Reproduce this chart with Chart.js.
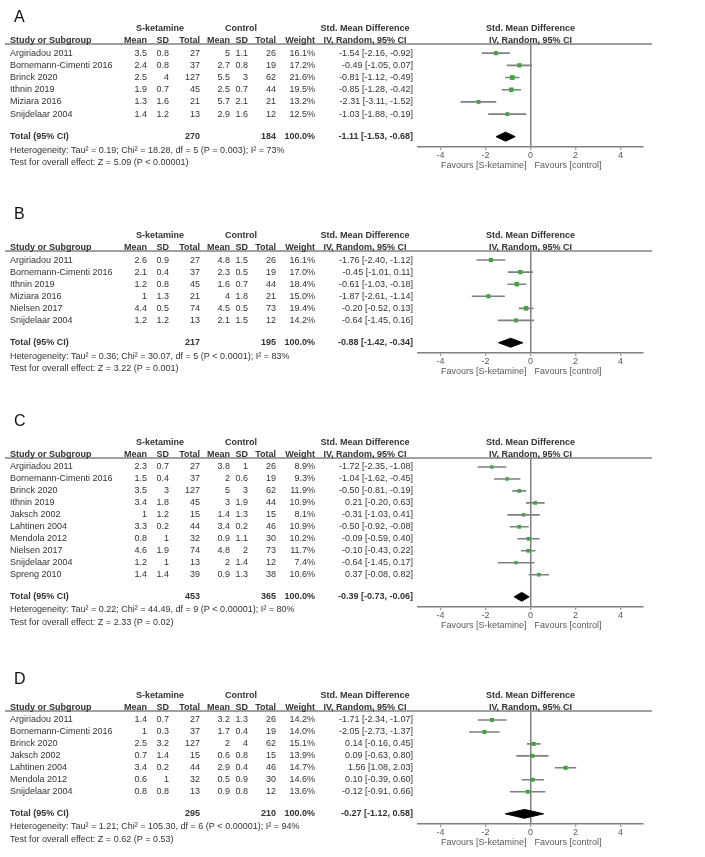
<!DOCTYPE html>
<html lang="en">
<head>
<meta charset="UTF-8">
<title>S-ketamine forest plots</title>
<script src="https://cdn.jsdelivr.net/npm/chart.js@4"></script>
<style>
  body { margin: 0; background: #fff; width: 705px; height: 857px; overflow: hidden; position: relative; }
  canvas { position: absolute; left: 0; }
</style>
</head>
<body>
<script>
// tick labels shared by all four plots
const xTicks = [-4, -2, 0, 2, 4];

// Panel A
const studiesA = ['Argiriadou 2011', 'Bornemann-Cimenti 2016', 'Brinck 2020', 'Ithnin 2019', 'Miziara 2016', 'Snijdelaar 2004'];
const skMeanA = [3.5, 2.4, 2.5, 1.9, 1.3, 1.4];
const skSdA = [0.8, 0.8, 4, 0.7, 1.6, 1.2];
const skNA = [27, 37, 127, 45, 21, 13];
const ctMeanA = [5, 2.7, 5.5, 2.5, 5.7, 2.9];
const ctSdA = [1.1, 0.8, 3, 0.7, 2.1, 1.6];
const ctNA = [26, 19, 62, 44, 21, 12];
const weightA = [16.1, 17.2, 21.6, 19.5, 13.2, 12.5];
const smdA = [-1.54, -0.49, -0.81, -0.85, -2.31, -1.03];
const lowA = [-2.16, -1.05, -1.12, -1.28, -3.11, -1.88];
const highA = [-0.92, 0.07, -0.49, -0.42, -1.52, -0.19];
const totalsA = [270, 184];
const pooledA = [-1.11, -1.53, -0.68];
const hetA = 'Heterogeneity: Tau² = 0.19; Chi² = 18.28, df = 5 (P = 0.003); I² = 73%';
const testA = 'Test for overall effect: Z = 5.09 (P < 0.00001)';

// Panel B
const studiesB = ['Argiriadou 2011', 'Bornemann-Cimenti 2016', 'Ithnin 2019', 'Miziara 2016', 'Nielsen 2017', 'Snijdelaar 2004'];
const skMeanB = [2.6, 2.1, 1.2, 1, 4.4, 1.2];
const skSdB = [0.9, 0.4, 0.8, 1.3, 0.5, 1.2];
const skNB = [27, 37, 45, 21, 74, 13];
const ctMeanB = [4.8, 2.3, 1.6, 4, 4.5, 2.1];
const ctSdB = [1.5, 0.5, 0.7, 1.8, 0.5, 1.5];
const ctNB = [26, 19, 44, 21, 73, 12];
const weightB = [16.1, 17.0, 18.4, 15.0, 19.4, 14.2];
const smdB = [-1.76, -0.45, -0.61, -1.87, -0.20, -0.64];
const lowB = [-2.40, -1.01, -1.03, -2.61, -0.52, -1.45];
const highB = [-1.12, 0.11, -0.18, -1.14, 0.13, 0.16];
const totalsB = [217, 195];
const pooledB = [-0.88, -1.42, -0.34];
const hetB = 'Heterogeneity: Tau² = 0.36; Chi² = 30.07, df = 5 (P < 0.0001); I² = 83%';
const testB = 'Test for overall effect: Z = 3.22 (P = 0.001)';

// Panel C
const studiesC = ['Argiriadou 2011', 'Bornemann-Cimenti 2016', 'Brinck 2020', 'Ithnin 2019', 'Jaksch 2002', 'Lahtinen 2004', 'Mendola 2012', 'Nielsen 2017', 'Snijdelaar 2004', 'Spreng 2010'];
const skMeanC = [2.3, 1.5, 3.5, 3.4, 1, 3.3, 0.8, 4.6, 1.2, 1.4];
const skSdC = [0.7, 0.4, 3, 1.8, 1.2, 0.2, 1, 1.9, 1, 1.4];
const skNC = [27, 37, 127, 45, 15, 44, 32, 74, 13, 39];
const ctMeanC = [3.8, 2, 5, 3, 1.4, 3.4, 0.9, 4.8, 2, 0.9];
const ctSdC = [1, 0.6, 3, 1.9, 1.3, 0.2, 1.1, 2, 1.4, 1.3];
const ctNC = [26, 19, 62, 44, 15, 46, 30, 73, 12, 38];
const weightC = [8.9, 9.3, 11.9, 10.9, 8.1, 10.9, 10.2, 11.7, 7.4, 10.6];
const smdC = [-1.72, -1.04, -0.50, 0.21, -0.31, -0.50, -0.09, -0.10, -0.64, 0.37];
const lowC = [-2.35, -1.62, -0.81, -0.20, -1.03, -0.92, -0.59, -0.43, -1.45, -0.08];
const highC = [-1.08, -0.45, -0.19, 0.63, 0.41, -0.08, 0.40, 0.22, 0.17, 0.82];
const totalsC = [453, 365];
const pooledC = [-0.39, -0.73, -0.06];
const hetC = 'Heterogeneity: Tau² = 0.22; Chi² = 44.49, df = 9 (P < 0.00001); I² = 80%';
const testC = 'Test for overall effect: Z = 2.33 (P = 0.02)';

// Panel D
const studiesD = ['Argiriadou 2011', 'Bornemann-Cimenti 2016', 'Brinck 2020', 'Jaksch 2002', 'Lahtinen 2004', 'Mendola 2012', 'Snijdelaar 2004'];
const skMeanD = [1.4, 1, 2.5, 0.7, 3.4, 0.6, 0.8];
const skSdD = [0.7, 0.3, 3.2, 1.4, 0.2, 1, 0.8];
const skND = [27, 37, 127, 15, 44, 32, 13];
const ctMeanD = [3.2, 1.7, 2, 0.6, 2.9, 0.5, 0.9];
const ctSdD = [1.3, 0.4, 4, 0.8, 0.4, 0.9, 0.8];
const ctND = [26, 19, 62, 15, 46, 30, 12];
const weightD = [14.2, 14.0, 15.1, 13.9, 14.7, 14.6, 13.6];
const smdD = [-1.71, -2.05, 0.14, 0.09, 1.56, 0.10, -0.12];
const lowD = [-2.34, -2.73, -0.16, -0.63, 1.08, -0.39, -0.91];
const highD = [-1.07, -1.37, 0.45, 0.80, 2.03, 0.60, 0.66];
const totalsD = [295, 210];
const pooledD = [-0.27, -1.12, 0.58];
const hetD = 'Heterogeneity: Tau² = 1.21; Chi² = 105.30, df = 6 (P < 0.00001); I² = 94%';
const testD = 'Test for overall effect: Z = 0.62 (P = 0.53)';

// look
const FONT = 'Arial, "Liberation Sans", sans-serif';
const TEXT = '#333333';
const SOFT = '#5a5a5a';
const GREY = '#808080';
const GREEN = '#12b812';
// right edges (or centres) of the table columns
const COL = { name: 10, skMean: 147, skSd: 169, skN: 200, ctMean: 230, ctSd: 248, ctN: 276, weight: 315, ci: 413, skHead: 160, ctHead: 241, ciHead: 365 };

const panels = [
  { letter: 'A', top: 0, axis: 147, letterOff: 26, studies: studiesA, skMean: skMeanA, skSd: skSdA, skN: skNA, ctMean: ctMeanA, ctSd: ctSdA, ctN: ctNA, weight: weightA, smd: smdA, low: lowA, high: highA, totals: totalsA, pooled: pooledA, het: hetA, test: testA },
  { letter: 'B', top: 207, axis: 146, letterOff: 36, studies: studiesB, skMean: skMeanB, skSd: skSdB, skN: skNB, ctMean: ctMeanB, ctSd: ctSdB, ctN: ctNB, weight: weightB, smd: smdB, low: lowB, high: highB, totals: totalsB, pooled: pooledB, het: hetB, test: testB },
  { letter: 'C', top: 414, axis: 193, letterOff: 36, studies: studiesC, skMean: skMeanC, skSd: skSdC, skN: skNC, ctMean: ctMeanC, ctSd: ctSdC, ctN: ctNC, weight: weightC, smd: smdC, low: lowC, high: highC, totals: totalsC, pooled: pooledC, het: hetC, test: testC },
  { letter: 'D', top: 667, axis: 157, letterOff: 31, studies: studiesD, skMean: skMeanD, skSd: skSdD, skN: skND, ctMean: ctMeanD, ctSd: ctSdD, ctN: ctND, weight: weightD, smd: smdD, low: lowD, high: highD, totals: totalsD, pooled: pooledD, het: hetD, test: testD }
];

const HEAD_LINE = 44;   // header rule, from the canvas top
const BELOW_AXIS = 40;  // room under the axis for labels and footnotes

function ciText(m, lo, hi) {
  return m.toFixed(2) + ' [' + lo.toFixed(2) + ', ' + hi.toFixed(2) + ']';
}

// writes the table part of a panel next to the plot, rows follow the y scale
function tablePlugin(p) {
  return {
    id: 'table' + p.letter,
    afterDraw(chart) {
      const { ctx, chartArea, scales: { x, y } } = chart;
      const n = p.studies.length;
      const zero = x.getPixelForValue(0);
      const put = (txt, px, py, align, weight, size, color) => {
        ctx.font = (weight || '') + ' ' + (size || 9) + 'px ' + FONT;
        ctx.fillStyle = color || TEXT;
        ctx.textAlign = align;
        ctx.textBaseline = 'middle';
        ctx.fillText(txt, px, py);
      };
      ctx.save();

      // header rule
      ctx.strokeStyle = GREY;
      ctx.lineWidth = 1.5;
      ctx.beginPath();
      ctx.moveTo(5, chartArea.top);
      ctx.lineTo(chartArea.right + 9, chartArea.top);
      ctx.stroke();

      put(p.letter, 14, chartArea.top - p.letterOff, 'left', '', 16, '#111');

      const h1 = y.getPixelForValue(-2.05);
      const h2 = chartArea.top - 3.5;
      put('S-ketamine', COL.skHead, h1, 'center', 'bold');
      put('Control', COL.ctHead, h1, 'center', 'bold');
      put('Std. Mean Difference', COL.ciHead, h1, 'center', 'bold');
      put('Std. Mean Difference', zero, h1, 'center', 'bold');
      put('Study or Subgroup', COL.name, h2, 'left', 'bold');
      put('Mean', COL.skMean, h2, 'right', 'bold');
      put('SD', COL.skSd, h2, 'right', 'bold');
      put('Total', COL.skN, h2, 'right', 'bold');
      put('Mean', COL.ctMean, h2, 'right', 'bold');
      put('SD', COL.ctSd, h2, 'right', 'bold');
      put('Total', COL.ctN, h2, 'right', 'bold');
      put('Weight', COL.weight, h2, 'right', 'bold');
      put('IV, Random, 95% CI', COL.ciHead, h2, 'center', 'bold');
      put('IV, Random, 95% CI', zero, h2, 'center', 'bold');

      p.studies.forEach((s, i) => {
        const py = y.getPixelForValue(i);
        put(s, COL.name, py, 'left');
        put(String(p.skMean[i]), COL.skMean, py, 'right');
        put(String(p.skSd[i]), COL.skSd, py, 'right');
        put(String(p.skN[i]), COL.skN, py, 'right');
        put(String(p.ctMean[i]), COL.ctMean, py, 'right');
        put(String(p.ctSd[i]), COL.ctSd, py, 'right');
        put(String(p.ctN[i]), COL.ctN, py, 'right');
        put(p.weight[i].toFixed(1) + '%', COL.weight, py, 'right');
        put(ciText(p.smd[i], p.low[i], p.high[i]), COL.ci, py, 'right');
      });

      const ty = y.getPixelForValue(n + 0.85);
      put('Total (95% CI)', COL.name, ty, 'left', 'bold');
      put(String(p.totals[0]), COL.skN, ty, 'right', 'bold');
      put(String(p.totals[1]), COL.ctN, ty, 'right', 'bold');
      put('100.0%', COL.weight, ty, 'right', 'bold');
      put(ciText(p.pooled[0], p.pooled[1], p.pooled[2]), COL.ci, ty, 'right', 'bold');
      put(p.het, COL.name, y.getPixelForValue(n + 1.95), 'left');
      put(p.test, COL.name, y.getPixelForValue(n + 3.0), 'left');

      const fy = chartArea.bottom + 19;
      put('Favours [S-ketamine]', zero - 4, fy, 'right', '', 9, SOFT);
      put('Favours [control]', zero + 4, fy, 'left', '', 9, SOFT);
      ctx.restore();
    }
  };
}

function drawPanel(p) {
  const n = p.studies.length;
  const rows = p.studies.map((s, i) => i);
  const totalRow = n + 0.85;

  const canvas = document.createElement('canvas');
  canvas.width = 705;
  canvas.height = p.axis + BELOW_AXIS;
  canvas.style.top = p.top + 'px';
  document.body.appendChild(canvas);

  // confidence intervals as one broken line
  const ciLine = [];
  rows.forEach(i => {
    ciLine.push({ x: p.low[i], y: i }, { x: p.high[i], y: i }, { x: null, y: null });
  });
  const diamond = [
    { x: p.pooled[1], y: totalRow },
    { x: p.pooled[0], y: totalRow - 0.37 },
    { x: p.pooled[2], y: totalRow },
    { x: p.pooled[0], y: totalRow + 0.37 },
    { x: p.pooled[1], y: totalRow }
  ];

  new Chart(canvas, {
    type: 'scatter',
    data: {
      datasets: [
        {
          type: 'line', data: ciLine, borderColor: GREY, borderWidth: 1.6,
          pointRadius: 0, spanGaps: false, fill: false
        },
        {
          type: 'scatter', data: rows.map(i => ({ x: p.smd[i], y: i })),
          pointStyle: 'rect', pointRadius: rows.map(i => 1.8 + p.weight[i] * 0.07),
          backgroundColor: GREEN, borderWidth: 0
        },
        {
          type: 'line', data: diamond, borderColor: '#000', backgroundColor: '#000',
          borderWidth: 1, pointRadius: 0, fill: 'shape', tension: 0
        }
      ]
    },
    options: {
      responsive: false,
      animation: false,
      events: [],
      layout: { padding: { top: HEAD_LINE, left: 418, right: 62, bottom: 0 } },
      plugins: { legend: { display: false }, tooltip: { enabled: false } },
      scales: {
        x: {
          type: 'linear', min: -5, max: 5,
          afterBuildTicks: s => { s.ticks = xTicks.map(v => ({ value: v })); },
          afterFit: s => { s.height = BELOW_AXIS; },
          border: { display: true, color: GREY, width: 1.5 },
          grid: {
            drawOnChartArea: true, drawTicks: true, tickLength: 3, tickColor: GREY, tickWidth: 1,
            color: c => (c.tick && c.tick.value === 0 ? GREY : 'rgba(0,0,0,0)'), lineWidth: 1.5
          },
          ticks: { padding: 0, color: SOFT, font: { family: FONT, size: 9 } }
        },
        y: {
          type: 'linear', reverse: true, display: false,
          min: -0.75, max: n + 1.7
        }
      }
    },
    plugins: [tablePlugin(p)]
  });
}

panels.forEach(drawPanel);
</script>
</body>
</html>
